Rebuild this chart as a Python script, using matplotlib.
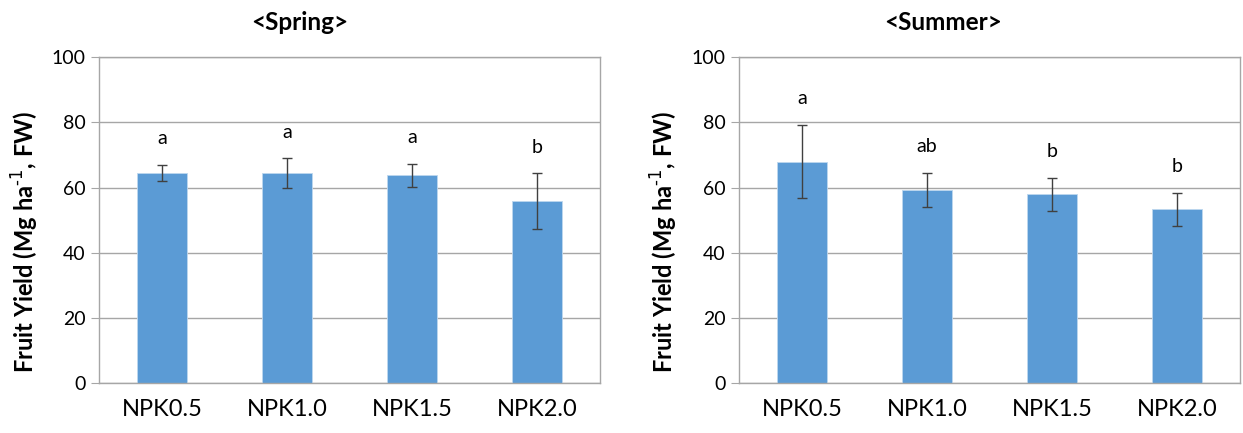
import matplotlib
matplotlib.use("Agg")
import matplotlib.pyplot as plt
import numpy as np

plt.rcParams['font.family'] = ['Lato', 'DejaVu Sans']

# data
categories = ['NPK0.5', 'NPK1.0', 'NPK1.5', 'NPK2.0']
spring_yield = [64.6, 64.4, 63.8, 55.9]
spring_err = [2.5, 4.6, 3.6, 8.5]
spring_letters = ['a', 'a', 'a', 'b']
summer_yield = [68.0, 59.3, 58.0, 53.4]
summer_err = [11.3, 5.2, 5.0, 5.0]
summer_letters = ['a', 'ab', 'b', 'b']
y_ticks = [0, 20, 40, 60, 80, 100]

bar_color = '#5b9bd5'
grid_color = '#a6a6a6'

fig = plt.figure(figsize=(12.43, 4.33), dpi=100)
ax1 = fig.add_axes([0.0799, 0.1148, 0.4028, 0.7529])
ax2 = fig.add_axes([0.5948, 0.1148, 0.4028, 0.7529])


def draw_panel(ax, vals, errs, letters):
    x = np.arange(len(categories))
    ax.bar(x, vals, width=0.4, color=bar_color, edgecolor='#bdd7ee', linewidth=0.6, zorder=2)
    ax.errorbar(x, vals, yerr=errs, fmt='none', ecolor='#404040', elinewidth=1,
                capsize=3.5, capthick=1, zorder=3)
    for xi, v, e, lab in zip(x, vals, errs, letters):
        ax.text(xi, v + e + 6.3, lab, ha='center', va='baseline', fontsize=14, color='black')
    ax.set_xlim(-0.5, len(categories) - 0.5)
    ax.set_ylim(0, 100)
    ax.set_yticks(y_ticks)
    ax.set_xticks(x)
    ax.set_xticklabels(categories, fontsize=17)
    ax.tick_params(axis='y', labelsize=14, length=6, color=grid_color, pad=4)
    ax.tick_params(axis='x', length=0, pad=11)
    ax.yaxis.grid(True, color=grid_color, linewidth=1, zorder=0)
    ax.set_axisbelow(True)
    for s in ax.spines.values():
        s.set_color(grid_color)
        s.set_linewidth(1)


draw_panel(ax1, spring_yield, spring_err, spring_letters)
draw_panel(ax2, summer_yield, summer_err, summer_letters)

fig.text(300 / 1243, 1 - 22 / 433, '<Spring>', ha='center', va='center',
         fontsize=17.5, fontweight='bold')
fig.text(943 / 1243, 1 - 22 / 433, '<Summer>', ha='center', va='center',
         fontsize=17.5, fontweight='bold')

ylab = 'Fruit Yield (Mg ha$^{\\text{-1}}$, FW)'
fig.text(25 / 1243, 1 - 242 / 433, ylab, rotation=90, ha='center', va='center',
         fontsize=17, fontweight='bold')
fig.text(664 / 1243, 1 - 242 / 433, ylab, rotation=90, ha='center', va='center',
         fontsize=17, fontweight='bold')

fig.savefig('out.png', dpi=100)
